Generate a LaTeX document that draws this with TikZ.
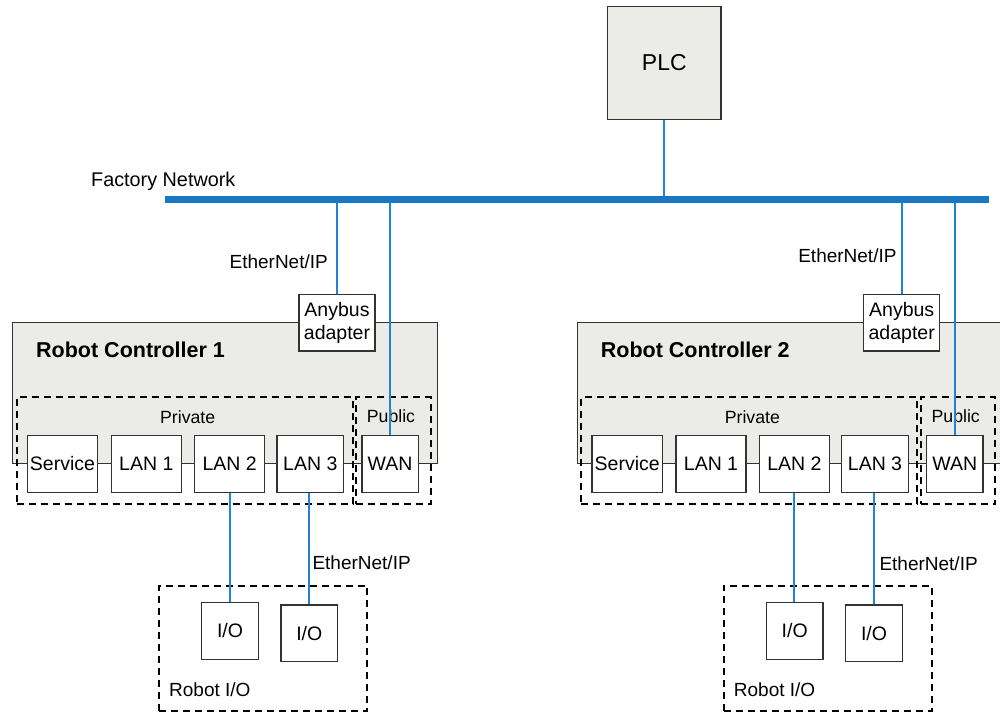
\documentclass[tikz,border=0pt]{standalone}
\usepackage{fontspec}
\setmainfont{Liberation Sans}
\definecolor{busblue}{HTML}{1A78C2}
\definecolor{lineblue}{HTML}{2283D0}
\definecolor{ctrlgray}{HTML}{EBEBE7}
\definecolor{edgegray}{HTML}{333333}
\begin{document}
\begin{tikzpicture}[x=1pt,y=-1pt,
  box/.style={draw=edgegray, line width=1.3pt, fill=white, inner sep=0pt, align=center,
    font=\fontsize{19.5}{22}\selectfont},
  plcbox/.style={draw=edgegray, line width=1.3pt, fill=ctrlgray, inner sep=0pt,
    font=\fontsize{23}{26}\selectfont},
  ctrl/.style={draw=edgegray, line width=1.3pt, fill=ctrlgray, inner sep=0pt},
  dbox/.style={draw=black, line width=1.9pt, dash pattern=on 7pt off 5pt, inner sep=0pt},
  lbl/.style={inner sep=0pt, font=\fontsize{19}{22}\selectfont},
  small/.style={inner sep=0pt, font=\fontsize{17.7}{20}\selectfont},
  ttl/.style={inner sep=0pt, font=\fontsize{21.5}{24}\selectfont\bfseries},
  link/.style={draw=lineblue, line width=2pt},
  bus/.style={draw=busblue, line width=6.5pt}
]
\useasboundingbox (0,0) rectangle (1000,713);
\node[plcbox, minimum width=113.3pt, minimum height=112.6pt] (plc) at (664.3,63) {PLC};
\coordinate (busL) at (165,199.7);
\coordinate (busR) at (989,199.7);
\node[lbl, anchor=west, font=\fontsize{19.8}{22}\selectfont] (fn) at (91,181) {Factory Network};
\draw[link] (plc.south) -- (plc.south |- busL);

\foreach \i/\dx/\xa/\ya/\xb/\yb in {1/0/328/261.7/312.3/562.7, 2/564.7/332/256/314.6/564}{
 \begin{scope}[xshift=\dx]
  \node[ctrl, minimum width=424.6pt, minimum height=140.6pt] (ctrl\i) at (225,393) {};
  \node[ttl, anchor=west] (t\i) at (36,350) {Robot Controller \i};
  \node[dbox, minimum width=336pt, minimum height=106.7pt] (priv\i) at (184.7,450.65) {};
  \node[dbox, minimum width=74.7pt, minimum height=106.7pt] (pub\i) at (393.35,450.65) {};
  \node[small] (privl\i) at (187.7,416.7) {Private};
  \node[small] (publ\i) at (391,416) {Public};
  \node[box, minimum width=70.4pt, minimum height=56.6pt] (srv\i) at (62.5,464) {Service};
  \node[box, minimum width=70pt, minimum height=56.6pt] (lana\i) at (146.3,464) {LAN 1};
  \node[box, minimum width=70pt, minimum height=56.6pt] (lanb\i) at (229.7,464) {LAN 2};
  \node[box, minimum width=66.7pt, minimum height=56.6pt] (lanc\i) at (310.3,464) {LAN 3};
  \node[box, minimum width=56.3pt, minimum height=56.6pt] (wan\i) at (390,464) {WAN};
  \node[box, minimum width=76pt, minimum height=56.7pt,
    font=\fontsize{19.5}{23.3}\selectfont] (any\i) at (337,322.7) {Anybus\\adapter};
  \node[dbox, minimum width=208pt, minimum height=125.3pt] (rio\i) at (263.3,648.35) {};
  \node[lbl, anchor=west] (riol\i) at (169,690) {Robot I/O};
  \node[box, minimum width=56.7pt, minimum height=56.6pt] (ioa\i) at (230,631) {I/O};
  \node[box, minimum width=56.7pt, minimum height=56.6pt] (iob\i) at (309.3,633.3) {I/O};
  \node[lbl, anchor=east] (ep\i) at (\xa,\ya) {EtherNet/IP};
  \node[lbl, anchor=west] (epl\i) at (\xb,\yb) {EtherNet/IP};
  \draw[link] (any\i.north) -- (any\i.north |- busL);
  \draw[link] (wan\i.north) -- (wan\i.north |- busL);
  \draw[link] (lanb\i.south) -- (lanb\i.south |- ioa\i.north);
  \draw[link] (iob\i.north) -- (iob\i.north |- lanc\i.south);
 \end{scope}
}
\draw[bus] (busL) -- (busR);
\end{tikzpicture}
\end{document}
